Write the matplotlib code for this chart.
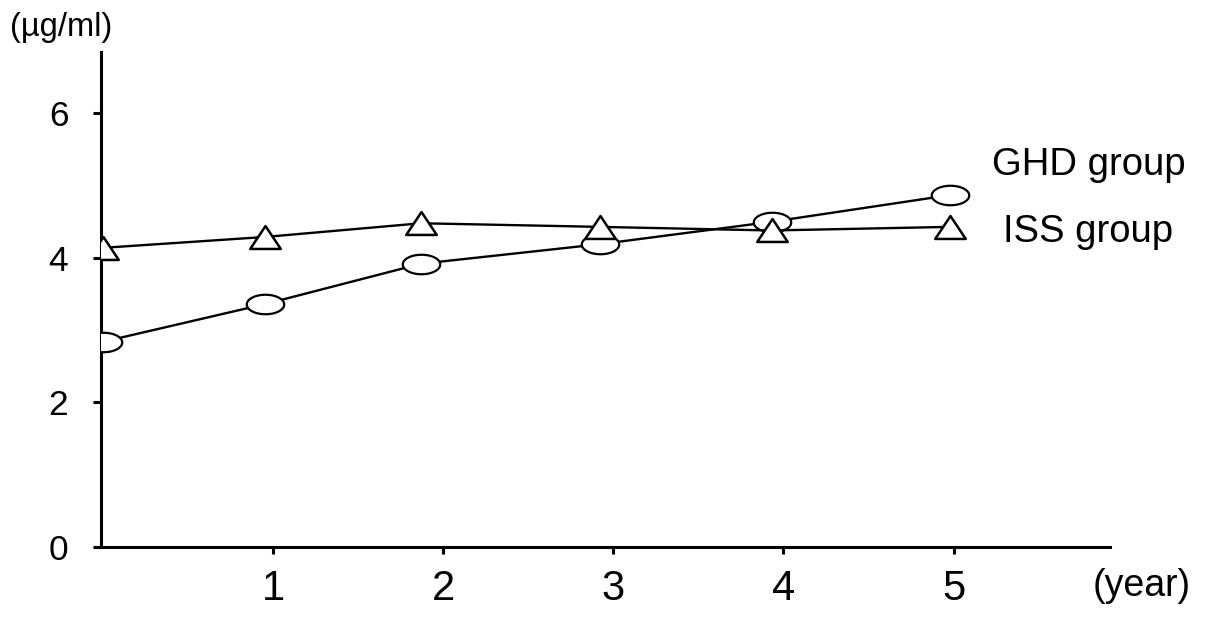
import matplotlib
matplotlib.use("Agg")
import matplotlib.pyplot as plt
import numpy as np
from matplotlib.path import Path

plt.rcParams['font.family'] = ['Liberation Sans', 'DejaVu Sans']

# 数据
years = [0, 0.95, 1.87, 2.92, 3.93, 4.98]
ghd_values = [2.84, 3.36, 3.92, 4.19, 4.5, 4.87]   # 圆形标记
iss_values = [4.14, 4.29, 4.48, 4.43, 4.38, 4.43]  # 三角形标记
x_ticks = [1, 2, 3, 4, 5]
y_ticks = [0, 2, 4, 6]

# 自定义标记：扁椭圆和矮三角形
t = np.linspace(0, 2 * np.pi, 60)
ellipse = Path(np.column_stack([np.cos(t), 0.52 * np.sin(t)]))
triangle = Path([(0, 0.75), (-1, -0.75), (1, -0.75), (0, 0.75)],
                [Path.MOVETO, Path.LINETO, Path.LINETO, Path.CLOSEPOLY])

fig = plt.figure(figsize=(12.05, 6.17), dpi=100)
ax = fig.add_axes([0.0838, 0.1135, 0.8374, 0.8022])

ax.plot(years, ghd_values, color='black', lw=1.7, marker=ellipse, ms=27,
        mfc='white', mec='black', mew=1.6, zorder=3)
ax.plot(years, iss_values, color='black', lw=1.7, marker=triangle, ms=22,
        mfc='white', mec='black', mew=1.8, zorder=4)

ax.set_xlim(-0.012, 5.92)
ax.set_ylim(0, 6.85)
ax.set_xticks(x_ticks)
ax.set_yticks(y_ticks)
ax.tick_params(axis='x', labelsize=30, length=5, width=2.2, pad=11)
ax.tick_params(axis='y', labelsize=25.5, length=6, width=2.2, pad=17.5)

for side in ['top', 'right']:
    ax.spines[side].set_visible(False)
for side in ['left', 'bottom']:
    ax.spines[side].set_linewidth(2.2)

fig.text(0.008, 0.955, '(µg/ml)', fontsize=23.5, va='center', ha='left')
fig.text(1093 / 1205, 1 - 586 / 617, '(year)', fontsize=27, va='center', ha='left')
fig.text(992 / 1205, 1 - 175 / 617, 'GHD group', fontsize=27.5, va='baseline', ha='left')
fig.text(1003 / 1205, 1 - 242 / 617, 'ISS group', fontsize=27.5, va='baseline', ha='left')

fig.savefig('out.png', dpi=100)
